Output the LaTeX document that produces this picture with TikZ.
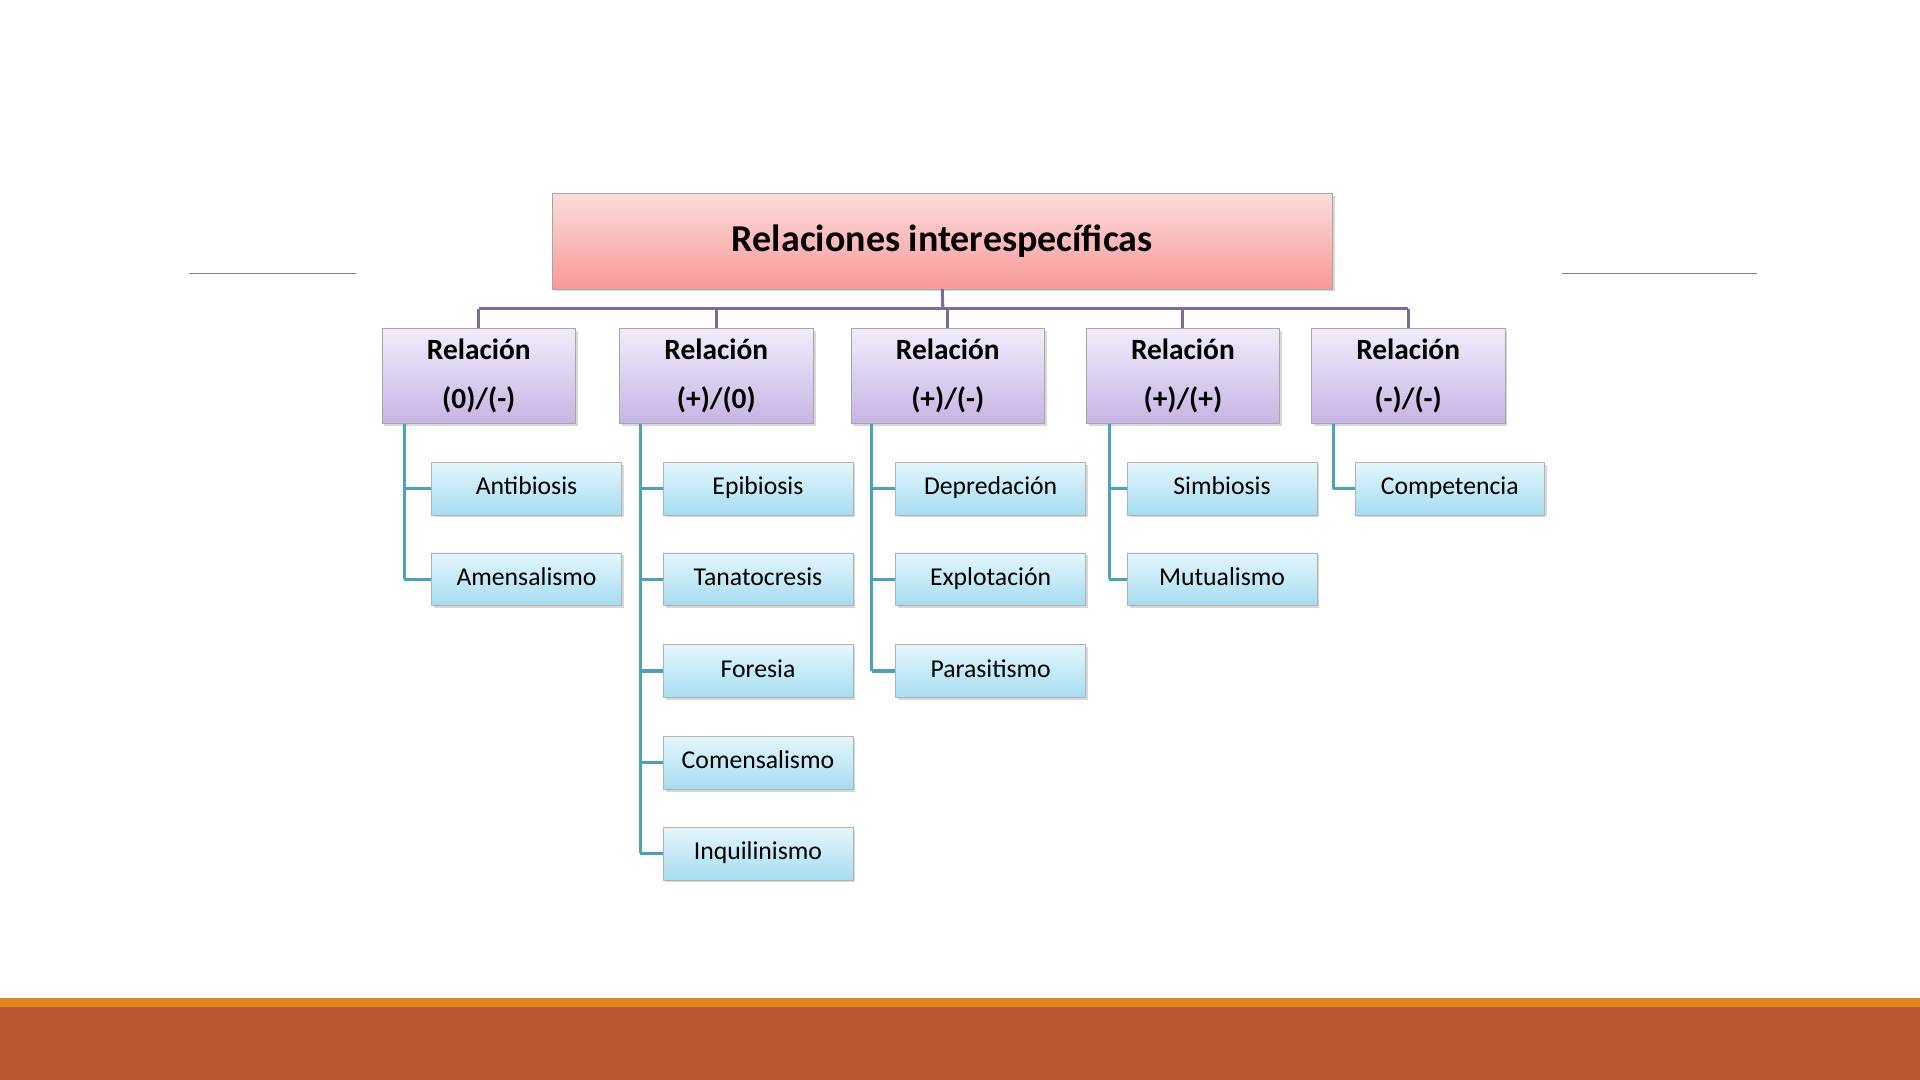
\documentclass[tikz,border=0pt]{standalone}
\usepackage{fontspec}
\setmainfont{Carlito}
\usetikzlibrary{shadows}
\definecolor{purp}{HTML}{7F6A9A}
\definecolor{teal1}{HTML}{4BA3B5}
\definecolor{band1}{HTML}{E0861E}
\definecolor{band2}{HTML}{BB5630}
\definecolor{lavT}{HTML}{F1ECFA}
\definecolor{lavB}{HTML}{C6B5E4}
\definecolor{cyT}{HTML}{E4F6FC}
\definecolor{cyB}{HTML}{A6DDF1}
\definecolor{pkT}{HTML}{FDDCDC}
\definecolor{pkB}{HTML}{F99898}
\begin{document}
\begin{tikzpicture}[x=1pt,y=-1pt,
  title/.style={draw=gray!70,top color=pkT,bottom color=pkB,minimum width=637pt,minimum height=78pt,font=\fontsize{31}{33}\selectfont\bfseries,drop shadow={shadow xshift=2pt,shadow yshift=-2pt,opacity=0.3}},
  lvl/.style={draw=gray!70,top color=lavT,bottom color=lavB,minimum width=158pt,minimum height=78pt,align=center,font=\fontsize{24}{40}\selectfont\bfseries,drop shadow={shadow xshift=2pt,shadow yshift=-2pt,opacity=0.3}},
  leaf/.style={draw=gray!60,top color=cyT,bottom color=cyB,minimum width=155pt,minimum height=43pt,text height=14pt,text depth=4pt,font=\fontsize{21}{23}\selectfont,drop shadow={shadow xshift=2pt,shadow yshift=-2pt,opacity=0.3}},
  pl/.style={purp,line width=2.5pt},
  tl/.style={teal1,line width=2.5pt}]
\useasboundingbox (0,0) rectangle (1568,882);
\fill[white] (0,0) rectangle (1568,882);
\fill[band1] (0,815) rectangle (1568,822);
\fill[band2] (0,822) rectangle (1568,882);
\draw[gray,line width=0.8pt] (154,223) -- (291,223);
\draw[gray,line width=0.8pt] (1276,223) -- (1435,223);
\coordinate (j) at (770,252);
\node[title] (t) at (769.5,197) {Relaciones interespecíficas};
\foreach \n/\x/\s in {a/391/{(0)/(-)},b/585/{(+)/(0)},c/774/{(+)/(-)},d/966/{(+)/(+)},e/1150/{(-)/(-)}}{
  \node[lvl] (\n) at (\x,307) {Relación\\\s};
  \coordinate (\n j) at (\x,252);
}
\draw[pl] (t.south) -- (j);
\draw[pl] (aj) -- (ej);
\foreach \n in {a,b,c,d,e} \draw[pl] (\n j) -- (\n.north);
\def\rows{{399,473,548,623,697}}
\foreach \n/\lx/\cx/\items in {a/330/430/{Antibiosis,Amensalismo},b/523/619/{Epibiosis,Tanatocresis,Foresia,Comensalismo,Inquilinismo},c/712/809/{Depredación,Explotación,Parasitismo},d/906/998/{Simbiosis,Mutualismo},e/1089/1184/{Competencia}}{
  \foreach \it [count=\i] in \items {
    \pgfmathsetmacro\yy{\rows[\i-1]}
    \node[leaf] (\n\i) at (\cx,\yy) {\it};
    \coordinate (\n v\i) at (\lx,\yy);
    \draw[tl] (\n v\i) -- (\n\i.west);
    \xdef\last{\i}
  }
  \coordinate (\n top) at (\lx,346);
  \draw[tl] (\n top) -- (\n v\last);
}
\end{tikzpicture}
\end{document}
